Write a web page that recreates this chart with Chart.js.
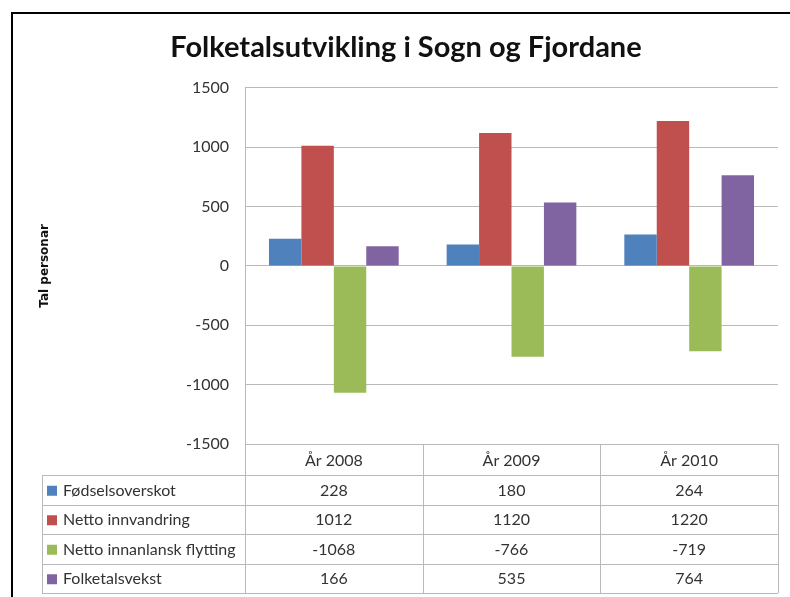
<!DOCTYPE html>
<html>
<head>
<meta charset="utf-8">
<script src="https://cdn.jsdelivr.net/npm/chart.js@4/dist/chart.umd.min.js"></script>
<style>
  html, body { margin: 0; padding: 0; background: #fff; }
  #wrap { width: 790px; height: 597px; }
</style>
</head>
<body>
<div id="wrap"><canvas id="barChart"></canvas></div>
<script>
// data
var years = ['År 2008', 'År 2009', 'År 2010']
var fodselsoverskot = [228, 180, 264]
var nettoInnvandring = [1012, 1120, 1220]
var nettoInnanlansk = [-1068, -766, -719]
var folketalsvekst = [166, 535, 764]
var seriesNames = ['Fødselsoverskot', 'Netto innvandring', 'Netto innanlansk flytting', 'Folketalsvekst']
var seriesColors = ['#4F81BD', '#C0504D', '#9BBB59', '#8064A2']
var yTicks = [1500, 1000, 500, 0, -500, -1000, -1500]

var lineGray = '#b9b9b9'
var textColor = '#333333'

// data table under the plot, Excel style
var dataTable = {
    id: 'dataTable',
    afterDraw: function (chart) {
        var ctx = chart.ctx
        var area = chart.chartArea
        var xs = chart.scales.x
        var top = area.bottom
        var headH = 31
        var rowH = 29.5
        var legLeft = 42
        var bottom = top + headH + rowH * seriesNames.length
        var colW = (area.right - area.left) / years.length

        ctx.save()
        ctx.strokeStyle = lineGray
        ctx.lineWidth = 1

        // horizontal lines
        ctx.beginPath()
        ctx.moveTo(area.left, top + 0.5)
        ctx.lineTo(area.right, top + 0.5)
        for (var r = 0; r <= seriesNames.length; r++) {
            var y = Math.round(top + headH + r * rowH) + 0.5
            ctx.moveTo(legLeft, y)
            ctx.lineTo(area.right, y)
        }
        // vertical lines
        for (var c = 0; c <= years.length; c++) {
            var x = Math.round(area.left + c * colW) + 0.5
            ctx.moveTo(x, top)
            ctx.lineTo(x, bottom)
        }
        ctx.moveTo(legLeft + 0.5, top + headH)
        ctx.lineTo(legLeft + 0.5, bottom)
        ctx.stroke()

        ctx.font = '16px Lato'
        ctx.fillStyle = textColor
        ctx.textAlign = 'center'
        ctx.textBaseline = 'middle'
        years.forEach(function (yr, i) {
            ctx.fillText(yr, xs.getPixelForValue(i), top + headH / 2 + 1)
        })

        chart.data.datasets.forEach(function (ds, s) {
            var cy = top + headH + s * rowH + rowH / 2 + 1
            ctx.fillStyle = ds.backgroundColor
            ctx.fillRect(legLeft + 5, cy - 5, 10, 10)
            ctx.fillStyle = textColor
            ctx.textAlign = 'left'
            ctx.fillText(ds.label, legLeft + 21, cy)
            ctx.textAlign = 'center'
            ds.data.forEach(function (v, i) {
                ctx.fillText(String(v), xs.getPixelForValue(i), cy)
            })
        })

        // outer chart frame (top and left edges visible)
        ctx.strokeStyle = '#000'
        ctx.lineWidth = 2
        ctx.beginPath()
        ctx.moveTo(12, 597)
        ctx.lineTo(12, 13)
        ctx.lineTo(790, 13)
        ctx.stroke()
        ctx.restore()
    }
}

var seriesData = [fodselsoverskot, nettoInnvandring, nettoInnanlansk, folketalsvekst]

new Chart(document.getElementById('barChart').getContext('2d'), {
    type: 'bar',
    data: {
        labels: years,
        datasets: seriesNames.map(function (name, i) {
            return {
                label: name,
                data: seriesData[i],
                backgroundColor: seriesColors[i],
                borderWidth: 0,
                barPercentage: 1,
                categoryPercentage: 0.73
            }
        })
    },
    options: {
        responsive: true,
        maintainAspectRatio: false,
        animation: false,
        layout: {
            padding: { left: 34, right: 12, top: 0, bottom: 153 }
        },
        plugins: {
            legend: { display: false },
            tooltip: { enabled: false },
            title: {
                display: true,
                text: 'Folketalsutvikling i Sogn og Fjordane',
                color: '#111',
                font: { family: 'Lato', size: 29, weight: 'bold', lineHeight: 1.2 },
                padding: { top: 30, bottom: 23 }
            }
        },
        scales: {
            x: {
                display: false
            },
            y: {
                min: -1500,
                max: 1500,
                afterFit: function (scale) { scale.width = 245 - 34 },
                afterBuildTicks: function (scale) {
                    scale.ticks = yTicks.map(function (v) { return { value: v } })
                },
                ticks: {
                    color: '#333',
                    font: { family: 'Lato', size: 16 },
                    padding: 16,
                    callback: function (v) { return String(v) }
                },
                grid: {
                    color: lineGray,
                    drawTicks: false
                },
                border: { color: lineGray },
                title: {
                    display: true,
                    text: 'Tal personar',
                    color: '#111',
                    font: { family: 'DejaVu Sans', size: 12, weight: 'bold' },
                    padding: { top: 4, bottom: 0 }
                }
            }
        }
    },
    plugins: [dataTable]
})
</script>
</body>
</html>
